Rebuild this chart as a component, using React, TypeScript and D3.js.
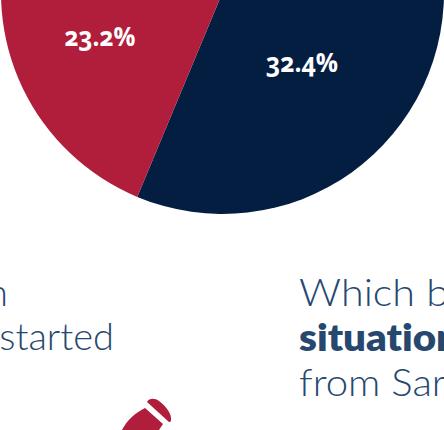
import React from "react";
import * as d3 from "d3";

// Shares of the pie, in percent; the remainder sits above the visible crop.
const sliceLabels = ["32.4%", "23.2%", ""];
const sliceValues = [32.4, 23.2, 44.4];
const sliceColors = ["#041e42", "#b01e3c", "none"];
const labelSpots = [
  { x: 302, y: 72, w: 72 },
  { x: 100, y: 46, w: 71 },
];

const textLines = [
  { text: "n", x: 8, y: 306, anchor: "end", weight: 300, w: undefined },
  { text: "started", x: 114, y: 350, anchor: "end", weight: 300, w: undefined },
  { text: "Which b", x: 299, y: 306, anchor: "start", weight: 300, w: 150 },
  { text: "situation", x: 299, y: 351, anchor: "start", weight: 800, w: 160 },
  { text: "from Sar", x: 299, y: 396, anchor: "start", weight: 300, w: 147 },
];

const WIDTH = 444;
const HEIGHT = 430;
const BODY_FONT = "Lato, 'Open Sans', sans-serif";
const LABEL_FONT = "'Open Sans', Lato, sans-serif";

export default function App() {
  const toRadians = d3.scaleLinear().domain([0, 360]).range([0, 2 * Math.PI]);
  const pie = d3
    .pie<number>()
    .sort(null)
    .startAngle(toRadians(86))
    .endAngle(toRadians(446));
  const arc = d3.arc<d3.PieArcDatum<number>>().innerRadius(0).outerRadius(221.5);
  const slices = pie(sliceValues);

  return (
    <svg
      width={WIDTH}
      height={HEIGHT}
      viewBox={`0 0 ${WIDTH} ${HEIGHT}`}
      style={{ position: "fixed", left: 0, top: 0, display: "block", background: "#fff" }}
    >
      <g transform="translate(222.5,-7.5)">
        {slices.map((s, i) =>
          sliceColors[i] === "none" ? null : (
            <path key={i} d={arc(s) ?? ""} fill={sliceColors[i]} />
          )
        )}
      </g>
      {labelSpots.map((p, i) => (
        <text
          key={i}
          x={p.x}
          y={p.y}
          textAnchor="middle"
          fontFamily={LABEL_FONT}
          fontWeight={700}
          fontSize={26}
          fill="#fff"
          textLength={p.w}
          lengthAdjust="spacingAndGlyphs"
          style={{ fontVariantNumeric: "oldstyle-nums" }}
        >
          {sliceLabels[i]}
        </text>
      ))}
      {textLines.map((l, i) => (
        <text
          key={i}
          x={l.x}
          y={l.y}
          textAnchor={l.anchor}
          fontFamily={BODY_FONT}
          fontWeight={l.weight}
          fontSize={38}
          fill="#26486f"
          textLength={l.w}
          lengthAdjust="spacingAndGlyphs"
          style={{ fontVariantLigatures: "none" }}
        >
          {l.text}
        </text>
      ))}
      {/* Pencil icon, cut off by the lower edge */}
      <g fill="#b01e3c">
        <path d="M147 402 C149 398 155 398 159 401 C166 406 172 414 171 420 C171 422 170 422 169 422 Z" />
        <path d="M145 408 L163 424 L159 430 L122 430 C127 420 135 413 145 408 Z" />
      </g>
    </svg>
  );
}
